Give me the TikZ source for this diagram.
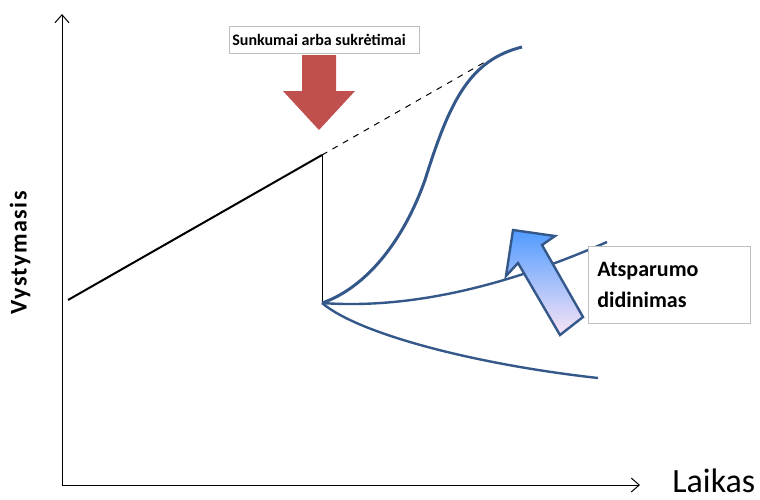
\documentclass[tikz,border=0pt]{standalone}
\usepackage{fontspec}
\setmainfont{Carlito}
\usetikzlibrary{arrows,arrows.meta,positioning}
\definecolor{curveblue}{RGB}{52,88,138}
\definecolor{shockred}{RGB}{192,80,77}
\definecolor{boxgray}{RGB}{191,191,191}

\begin{document}
\begin{tikzpicture}[x=0.5pt,y=-0.5pt,
  curve/.style={draw=curveblue,line width=1.2pt},
  axis/.style={line width=0.5pt,-{Straight Barb[length=4pt,width=7pt]}},
  labelbox/.style={draw=boxgray,fill=white,anchor=north west,align=flush left}]
 \useasboundingbox (0,0) rectangle (760,499);
 %axis
 \coordinate (o) at (62,485);
 \coordinate (ytop) at (62,14);
 \coordinate (xend) at (640,485);
 \draw[axis] (o) -- (ytop);
 \draw[axis] (o) -- (xend);
 \node (xlab) at (672,492) [anchor=base west,inner sep=0pt] {\fontsize{17}{20}\selectfont Laikas};
 \node (ylab) at (20,253) [rotate=90] {\fontsize{12}{14}\selectfont\bfseries\addfontfeature{LetterSpace=6}Vystymasis};

 % coordinates
 \coordinate (c0) at (68,300);
 \coordinate (c1) at (322,155);
 \coordinate (c2) at (322,303);
 \coordinate (c3) at (485,62);
 \coordinate (c4) at (522,47);
 \coordinate (c5) at (607,242);
 \coordinate (c6) at (598,378);

 % growth before the shock
 \draw[line width=1pt] (c0) -- (c1);
 \draw[line width=0.5pt] (c1) -- (c2);
 \draw[dashed,line width=0.5pt] (c1) -- (c3);

 % paths after the shock
 \draw[curve,line width=1.5pt] (c2) .. controls (360,290) and (400,250) .. (425,180)
   .. controls (450,100) and (470,60) .. (c4);
 \draw[curve] (c2) .. controls (420,310) and (520,280) .. (c5);
 \draw[curve] (c2) .. controls (360,335) and (480,365) .. (c6);

 % shock
 \node (l0) at (229,26) [labelbox,font=\bfseries\fontsize{8}{9}\selectfont,
   inner sep=1.5pt,text width=92pt,minimum height=13.5pt] {Sunkumai arba sukrėtimai};
 \fill[shockred] (302,55) -- (336,55) -- (336,91) -- (355,91) -- (319,130)
   -- (283,91) -- (302,91) -- cycle;

 % resilience
 \shade[draw=curveblue,line width=1.2pt,shading angle=160,
   top color={rgb,255:red,80;green,155;blue,255},bottom color={rgb,255:red,250;green,228;blue,245}]
   (513,230) -- (555,236) -- (542,245) -- (583,317) -- (560,335)
   -- (518,263) -- (506,276) -- cycle;
 \node (l1) at (588,246) [labelbox,font=\bfseries\fontsize{11}{15.5}\selectfont,
   inner xsep=4.5pt,inner ysep=3pt,text width=72pt,minimum height=38.5pt] {Atsparumo\\didinimas};
\end{tikzpicture}
\end{document}
